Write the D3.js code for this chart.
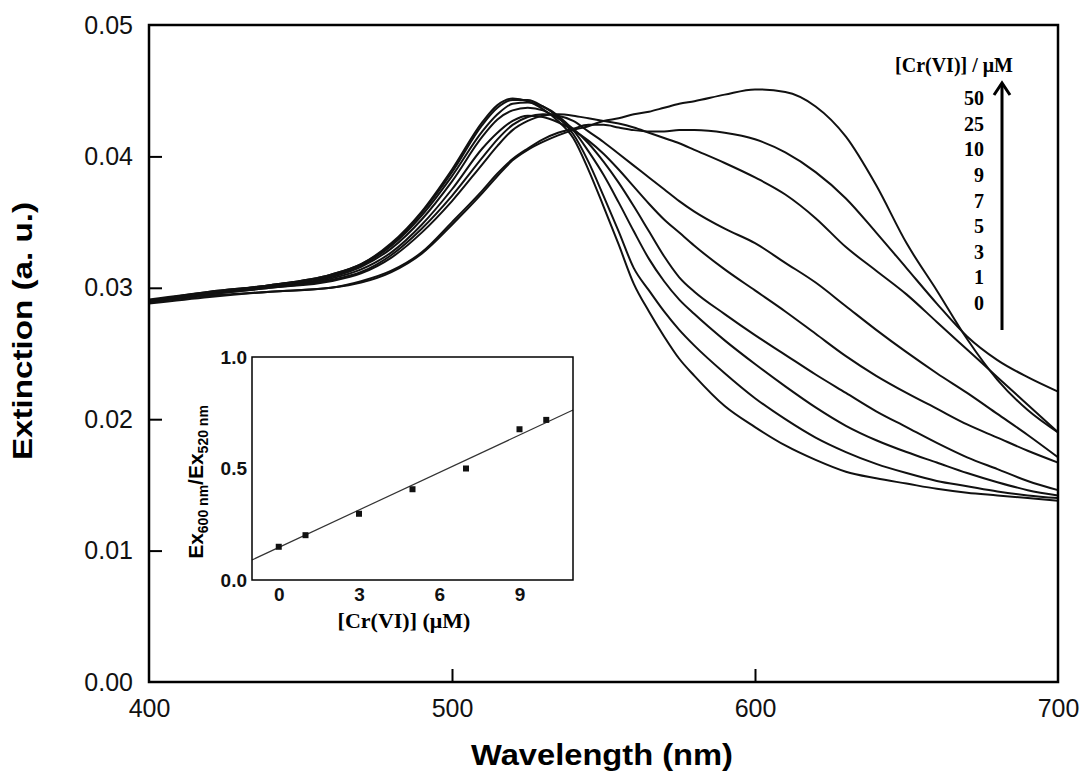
<!DOCTYPE html>
<html><head><meta charset="utf-8">
<script src="https://cdn.jsdelivr.net/npm/d3@7"></script>
<style>body{margin:0;background:#fff;} svg{display:block;}</style>
</head><body>
<svg id="chart" width="1083" height="774"></svg>
<script>
// ---- Main spectra data ----
const wavelengths = [400,420,440,460,470,480,490,500,510,515,520,525,530,535,540,545,550,555,560,565,570,575,580,590,600,610,620,630,640,650,660,670,680,690,700];
const ext_0uM  = [.0290,.0297,.0302,.0310,.0318,.0334,.0358,.0390,.0426,.0439,.0444,.0442,.0436,.0427,.0414,.0390,.0362,.0333,.0303,.0282,.0263,.0246,.0233,.0210,.0194,.0180,.0169,.0160,.0155,.0151,.0147,.0144,.0142,.0140,.0138];
const ext_1uM  = [.0291,.0297,.0302,.0310,.0318,.0333,.0357,.0388,.0424,.0437,.0443,.0443,.0438,.0430,.0417,.0396,.0370,.0343,.0315,.0298,.0282,.0268,.0256,.0235,.0216,.0200,.0186,.0175,.0166,.0159,.0153,.0149,.0145,.0142,.0140];
const ext_3uM  = [.0290,.0296,.0302,.0309,.0317,.0332,.0355,.0385,.0419,.0432,.0440,.0441,.0438,.0431,.0420,.0404,.0386,.0365,.0343,.0322,.0305,.0291,.0280,.0260,.0242,.0225,.0209,.0195,.0184,.0175,.0167,.0159,.0152,.0146,.0142];
const ext_5uM  = [.0289,.0296,.0301,.0308,.0316,.0330,.0352,.0381,.0415,.0428,.0435,.0437,.0435,.0429,.0421,.0410,.0396,.0380,.0362,.0343,.0324,.0308,.0297,.0280,.0264,.0249,.0234,.0220,.0206,.0194,.0182,.0171,.0162,.0153,.0146];
const ext_7uM  = [.0290,.0296,.0301,.0307,.0314,.0327,.0348,.0375,.0406,.0418,.0427,.0431,.0430,.0426,.0420,.0412,.0402,.0390,.0377,.0364,.0352,.0342,.0332,.0314,.0298,.0282,.0265,.0248,.0233,.0220,.0208,.0196,.0186,.0176,.0167];
const ext_9uM  = [.0289,.0295,.0300,.0306,.0312,.0325,.0345,.0370,.0399,.0413,.0424,.0430,.0432,.0431,.0427,.0419,.0411,.0402,.0393,.0384,.0375,.0366,.0358,.0345,.0334,.0319,.0304,.0286,.0268,.0251,.0235,.0220,.0204,.0188,.0171];
const ext_10uM = [.0290,.0295,.0300,.0305,.0311,.0323,.0342,.0366,.0394,.0408,.0420,.0427,.0431,.0432,.0431,.0429,.0427,.0425,.0422,.0418,.0414,.0410,.0405,.0395,.0384,.0371,.0353,.0331,.0313,.0295,.0274,.0253,.0232,.0211,.0190];
const ext_25uM = [.0289,.0294,.0297,.0300,.0305,.0313,.0327,.0350,.0374,.0387,.0398,.0406,.0413,.0418,.0421,.0424,.0424,.0422,.0420,.0419,.0419,.0420,.0420,.0418,.0413,.0403,.0388,.0368,.0342,.0315,.0288,.0263,.0245,.0232,.0221];
const ext_50uM = [.0288,.0293,.0297,.0300,.0304,.0312,.0326,.0348,.0372,.0385,.0397,.0405,.0411,.0416,.0420,.0423,.0427,.0429,.0432,.0434,.0437,.0440,.0442,.0447,.0451,.0449,.0438,.0415,.0378,.0334,.0298,.0261,.0230,.0207,.0190];
const spectra = [ext_0uM, ext_1uM, ext_3uM, ext_5uM, ext_7uM, ext_9uM, ext_10uM, ext_25uM, ext_50uM];

const xTicks = [400, 500, 600, 700];
const yTicks = [0, 0.01, 0.02, 0.03, 0.04, 0.05];
const legendLabels = ["50","25","10","9","7","5","3","1","0"];

// ---- Inset data ----
const insetConc  = [0, 1, 3, 5, 7, 9, 10];
const insetRatio = [0.149, 0.201, 0.297, 0.407, 0.500, 0.676, 0.718];
const fitX = [-1, 11];
const fitY = [0.090, 0.762];
const insetXTicks = [0, 3, 6, 9];
const insetYTicks = [0, 0.5, 1.0];

const svg = d3.select("#chart");
const SANS = "'Liberation Sans', Arial, sans-serif";
const SERIF = "'Liberation Serif', 'Times New Roman', serif";

// ---- Main chart ----
const x = d3.scaleLinear().domain([400, 700]).range([149, 1058]);
const y = d3.scaleLinear().domain([0, 0.05]).range([682, 25]);

const line = d3.line()
  .x((d, i) => x(wavelengths[i]))
  .y(d => y(d))
  .curve(d3.curveMonotoneX);

svg.append("g").selectAll("path").data(spectra).join("path")
  .attr("d", d => line(d))
  .attr("fill", "none").attr("stroke", "#111").attr("stroke-width", 2);

const xAxis = svg.append("g").attr("transform", "translate(0,682)")
  .call(d3.axisBottom(x).tickValues(xTicks).tickFormat(d3.format("d")).tickSize(-13).tickPadding(17));
const yAxis = svg.append("g").attr("transform", "translate(149,0)")
  .call(d3.axisLeft(y).tickValues(yTicks).tickFormat(d3.format(".2f")).tickSize(-13).tickPadding(16));
[xAxis, yAxis].forEach(g => {
  g.select(".domain").remove();
  g.selectAll(".tick line").attr("stroke", "#000").attr("stroke-width", 2);
  g.selectAll(".tick text").attr("fill", "#111").style("font-family", SANS).style("font-size", "25px");
});
xAxis.selectAll(".tick").filter(d => d === 400 || d === 700).select("line").remove();
yAxis.selectAll(".tick").filter(d => d === 0 || d === 0.05).select("line").remove();

svg.append("rect").attr("x", 149).attr("y", 25).attr("width", 909).attr("height", 657)
  .attr("fill", "none").attr("stroke", "#000").attr("stroke-width", 2.5);

svg.append("text").attr("x", 602).attr("y", 765).attr("text-anchor", "middle")
  .attr("textLength", 262).attr("lengthAdjust", "spacingAndGlyphs")
  .style("font-family", SANS).style("font-weight", "bold").style("font-size", "29px")
  .text("Wavelength (nm)");
svg.append("text").attr("transform", "translate(32,331) rotate(-90)").attr("text-anchor", "middle")
  .attr("textLength", 258).attr("lengthAdjust", "spacingAndGlyphs")
  .style("font-family", SANS).style("font-weight", "bold").style("font-size", "27px")
  .text("Extinction (a. u.)");

// ---- Legend ----
const ly = d3.scalePoint().domain(legendLabels).range([105, 310]);
svg.append("g").selectAll("text").data(legendLabels).join("text")
  .attr("x", 984).attr("y", d => ly(d)).attr("text-anchor", "end")
  .style("font-family", SERIF).style("font-weight", "bold").style("font-size", "20px")
  .text(d => d);
svg.append("text").attr("x", 1013).attr("y", 72).attr("text-anchor", "end")
  .style("font-family", SERIF).style("font-weight", "bold").style("font-size", "20px")
  .text("[Cr(VI)] / μM");
svg.append("line").attr("x1", 1002).attr("x2", 1002).attr("y1", 330).attr("y2", 84)
  .attr("stroke", "#000").attr("stroke-width", 3);
svg.append("path").attr("d", "M994,95 L1002,83 L1010,95")
  .attr("fill", "none").attr("stroke", "#000").attr("stroke-width", 3);

// ---- Inset ----
const ix = d3.scaleLinear().domain([-1, 11]).range([252, 573]);
const iy = d3.scaleLinear().domain([0, 1]).range([580, 357]);

svg.append("line").attr("x1", ix(fitX[0])).attr("y1", iy(fitY[0]))
  .attr("x2", ix(fitX[1])).attr("y2", iy(fitY[1]))
  .attr("stroke", "#333").attr("stroke-width", 1.2);

svg.append("g").selectAll("rect").data(insetConc).join("rect")
  .attr("x", (d) => ix(d) - 3).attr("y", (d, i) => iy(insetRatio[i]) - 3)
  .attr("width", 6).attr("height", 6).attr("fill", "#111");

const ixAxis = svg.append("g").attr("transform", "translate(0,580)")
  .call(d3.axisBottom(ix).tickValues(insetXTicks).tickFormat(d3.format("d")).tickSize(0).tickPadding(8));
const iyAxis = svg.append("g").attr("transform", "translate(252,0)")
  .call(d3.axisLeft(iy).tickValues(insetYTicks).tickFormat(d3.format(".1f")).tickSize(0).tickPadding(5));
[ixAxis, iyAxis].forEach(g => {
  g.select(".domain").remove();
  g.selectAll(".tick text").attr("fill", "#111").style("font-family", SANS)
    .style("font-weight", "bold").style("font-size", "19px");
});
svg.append("rect").attr("x", 252).attr("y", 357).attr("width", 321).attr("height", 223)
  .attr("fill", "none").attr("stroke", "#000").attr("stroke-width", 1.5);

svg.append("text").attr("x", 404).attr("y", 628).attr("text-anchor", "middle")
  .style("font-family", SERIF).style("font-weight", "bold").style("font-size", "22px")
  .text("[Cr(VI)] (μM)");

const yl = svg.append("text").attr("transform", "translate(203,482) rotate(-90)").attr("text-anchor", "middle")
  .style("font-family", SANS).style("font-weight", "bold").style("font-size", "21px");
yl.append("tspan").text("Ex");
yl.append("tspan").attr("dy", 5).style("font-size", "14px").text("600 nm");
yl.append("tspan").attr("dy", -5).text("/Ex");
yl.append("tspan").attr("dy", 5).style("font-size", "14px").text("520 nm");
</script>
</body></html>
